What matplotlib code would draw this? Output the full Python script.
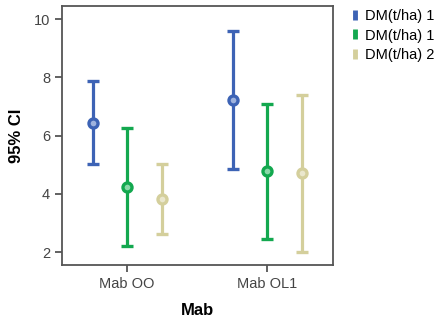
import matplotlib.pyplot as plt
from matplotlib.lines import Line2D

plt.rcParams['font.family'] = ['Liberation Sans', 'DejaVu Sans']

categories = ['Mab OO', 'Mab OL1']
series = ['DM(t/ha) 1', 'DM(t/ha) 1', 'DM(t/ha) 2']
means = [[6.44, 7.23], [4.22, 4.77], [3.81, 4.71]]
lower = [[5.04, 4.86], [2.22, 2.46], [2.61, 2.01]]
upper = [[7.87, 9.61], [6.26, 7.10], [5.03, 7.41]]
colors = ['#3d63b5', '#13a84f', '#d4cf9c']
face = ['#9fb3de', '#8ad8a8', '#eae7cd']
offsets = [-0.246, 0.0, 0.246]

fig = plt.figure(figsize=(4.39, 3.21), dpi=100)
ax = fig.add_axes([0.141, 0.174, 0.618, 0.807])

handles = []
for i in range(3):
    xs = [j + offsets[i] for j in range(len(categories))]
    err_lo = [m - l for m, l in zip(means[i], lower[i])]
    err_hi = [u - m for m, u in zip(means[i], upper[i])]
    ax.errorbar(xs, means[i], yerr=[err_lo, err_hi], fmt='o', color=colors[i],
                ecolor=colors[i], elinewidth=2.3, capsize=4, capthick=2.3,
                markersize=6.5, markeredgewidth=2.4, markerfacecolor=face[i])
    handles.append(Line2D([], [], marker='|', ls='none', color=colors[i],
                          markersize=7, markeredgewidth=3.5))

ax.set_xlim(-0.465, 1.47)
ax.set_ylim(1.55, 10.45)
ax.set_yticks([2, 4, 6, 8, 10])
ax.set_xticks(range(len(categories)))
ax.set_xticklabels(categories)

for sp in ax.spines.values():
    sp.set_color('#555555')
    sp.set_linewidth(1.3)
ax.tick_params(direction='out', length=5, width=1.3, color='#555555',
               labelcolor='#444444', labelsize=10.5)
ax.set_ylabel('95% CI', fontsize=12, fontweight='bold', labelpad=7)
ax.set_xlabel('Mab', fontsize=12, fontweight='bold', labelpad=9)

fig.legend(handles, series, loc='upper left', bbox_to_anchor=(0.779, 1.0),
           frameon=False, fontsize=10.5, handlelength=0.6, handletextpad=0.4,
           labelspacing=0.4, borderaxespad=0.2)

fig.savefig('out.png', dpi=100)
